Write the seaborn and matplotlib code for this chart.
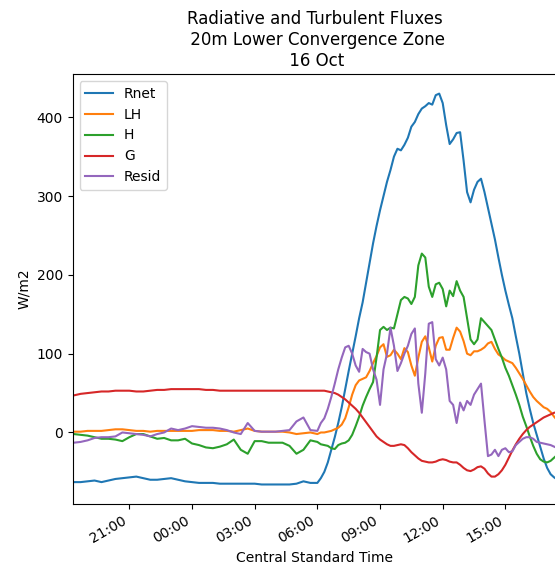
"""Flujos radiativos y turbulentos, 20 m, zona de convergencia inferior (16 Oct)."""

import matplotlib

matplotlib.use("Agg")

import matplotlib.dates as mdates
import matplotlib.pyplot as plt
import pandas as pd
import seaborn as sns

# ---- datos (W/m2) ----
# noche: cada 20 min, 18:20 -> 05:40 ; día: cada 10 min, 06:00 -> 17:30
horas_noche = pd.date_range("2019-10-15 18:20", "2019-10-16 05:40", freq="20min")
horas_dia = pd.date_range("2019-10-16 06:00", "2019-10-16 17:30", freq="10min")

rnet_noche = [-63, -63, -62, -61, -63, -61, -59, -58, -57, -56,
              -58, -60, -60, -59, -58, -60, -62, -63, -64, -64,
              -64, -65, -65, -65, -65, -65, -65, -66, -66, -66,
              -66, -66, -65, -62, -64]
rnet_dia = [-64, -58, -50, -38, -22, -6, 12, 32, 55, 78,
            100, 122, 145, 165, 190, 215, 240, 262, 282, 300,
            318, 333, 350, 360, 358, 365, 374, 388, 394, 404,
            411, 414, 418, 416, 428, 430, 418, 390, 366, 372,
            380, 381, 345, 305, 292, 308, 318, 322, 305, 285,
            265, 245, 222, 200, 180, 162, 145, 122, 100, 75,
            50, 30, 12, -3, -18, -33, -45, -53, -57, -60]

lh_noche = [1, 1, 2, 2, 2, 3, 4, 4, 3, 2,
            2, 1, 2, 2, 2, 2, 2, 2, 3, 3,
            3, 2, 2, 1, 3, 5, 2, 1, 1, 1,
            1, 0, -2, -1, 0]
lh_dia = [-2, 0, 0, 1, 2, 4, 6, 10, 18, 32,
          48, 60, 66, 68, 70, 78, 88, 97, 108, 112,
          96, 98, 105, 100, 93, 107, 102, 85, 72, 95,
          115, 122, 108, 90, 110, 120, 121, 105, 105, 120,
          133, 128, 116, 100, 98, 103, 103, 105, 108, 113,
          115, 106, 99, 96, 92, 90, 88, 82, 75, 68,
          60, 52, 45, 40, 36, 32, 30, 26, 20, 15]

h_noche = [-2, -3, -4, -6, -8, -8, -9, -11, -6, -2,
           -2, -5, -8, -7, -10, -10, -8, -14, -16, -19,
           -20, -18, -15, -9, -22, -27, -11, -11, -13, -13,
           -13, -17, -27, -22, -10]
h_dia = [-12, -15, -16, -17, -20, -21, -16, -14, -13, -10,
         -3, 8, 20, 34, 45, 55, 64, 95, 130, 134,
         130, 133, 132, 150, 168, 172, 170, 163, 172, 212,
         227, 222, 185, 172, 188, 190, 182, 160, 180, 173,
         192, 180, 172, 145, 118, 112, 118, 145, 140, 135,
         130, 118, 106, 95, 82, 72, 60, 48, 35, 20,
         8, -5, -17, -27, -34, -37, -38, -36, -32, -28]

g_noche = [47, 49, 50, 51, 52, 52, 53, 53, 53, 52,
           52, 53, 54, 54, 55, 55, 55, 55, 55, 54,
           54, 53, 53, 53, 53, 53, 53, 53, 53, 53,
           53, 53, 53, 53, 53]
g_dia = [53, 53, 53, 52, 51, 50, 48, 45, 42, 38,
         34, 30, 25, 19, 13, 7, 1, -5, -9, -12,
         -15, -17, -17, -16, -15, -16, -20, -25, -29, -33,
         -36, -37, -38, -38, -37, -35, -34, -35, -37, -38,
         -38, -41, -45, -48, -49, -47, -44, -43, -46, -52,
         -56, -56, -53, -48, -41, -32, -23, -15, -8, -2,
         3, 7, 10, 13, 16, 19, 21, 23, 25, 26]

resid_noche = [-13, -12, -10, -7, -6, -6, -5, 0, -1, -2,
               -3, -5, -2, 0, 5, 3, 5, 8, 7, 6,
               6, 5, 3, 0, -2, 12, 2, 1, 1, 1,
               2, 3, 14, 19, 3]
resid_dia = [2, 12, 18, 30, 45, 62, 80, 95, 108, 110,
             100, 85, 77, 106, 102, 100, 80, 67, 35, 80,
             100, 133, 110, 78, 88, 100, 110, 125, 132, 62,
             25, 75, 138, 140, 93, 85, 95, 80, 40, 35,
             12, 38, 28, 40, 35, 48, 55, 62, 15, -30,
             -28, -22, -30, -22, -20, -25, -24, -16, -12, -8,
             -6, -6, -8, -12, -13, -14, -15, -16, -18, -20]

series = ["Rnet", "LH", "H", "G", "Resid"]
colores = ["tab:blue", "tab:orange", "tab:green", "tab:red", "tab:purple"]

df = pd.DataFrame(
    {
        "Rnet": rnet_noche + rnet_dia,
        "LH": lh_noche + lh_dia,
        "H": h_noche + h_dia,
        "G": g_noche + g_dia,
        "Resid": resid_noche + resid_dia,
    },
    index=horas_noche.append(horas_dia),
)

fig = plt.figure(figsize=(5.55, 5.71), dpi=100)
ax = fig.add_axes([0.1308, 0.1173, 0.872, 0.753])

for nombre, color in zip(series, colores):
    sns.lineplot(x=df.index, y=df[nombre], ax=ax, label=nombre, color=color, linewidth=1.5)

ax.set_xlim(pd.Timestamp("2019-10-15 18:17"), pd.Timestamp("2019-10-16 17:27"))
ax.xaxis.set_major_locator(mdates.HourLocator(byhour=range(0, 24, 3)))
ax.xaxis.set_major_formatter(mdates.DateFormatter("%H:%M"))
plt.setp(ax.get_xticklabels(), rotation=30, ha="right")

ax.set_xlabel("Central Standard Time")
ax.set_ylabel("W/m2")
ax.set_title("Radiative and Turbulent Fluxes\n 20m Lower Convergence Zone\n 16 Oct")
ax.legend(loc="upper left")

fig.savefig("out.png", dpi=100)
